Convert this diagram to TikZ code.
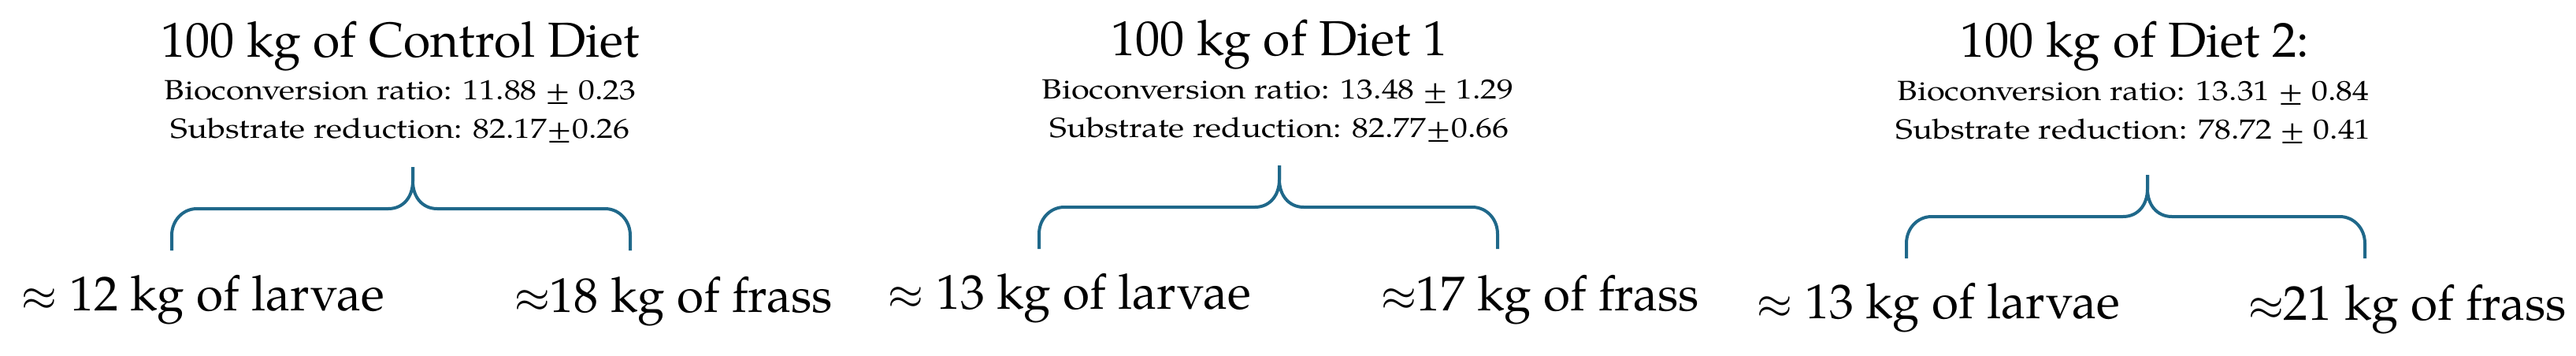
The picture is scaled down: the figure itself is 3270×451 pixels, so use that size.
\documentclass[tikz,border=0pt]{standalone}
\usepackage{fontspec}
\setmainfont{TeX Gyre Pagella}
\newfontfamily\infofont[FakeStretch=1.185]{TeX Gyre Pagella}
\definecolor{bracecol}{RGB}{31,104,138}
\tikzset{
  titletext/.style={font=\fontsize{15.6}{18}\selectfont, anchor=base, inner sep=0pt},
  infotext/.style={font=\infofont\fontsize{8.8}{10}\selectfont, anchor=base, inner sep=0pt},
  resulttext/.style={font=\fontsize{15.5}{18}\selectfont, anchor=base, inner sep=0pt},
  bracestyle/.style={draw=bracecol, line width=1pt}
}
% name, left x, cusp x, right x, horizontal y
\newcommand{\dietbrace}[5]{%
  \coordinate (#1l) at ({#2},{#5+53});
  \coordinate (#1c) at ({#3},{#5-53});
  \coordinate (#1r) at ({#4},{#5+53});
  \draw[bracestyle] (#1l) -- ({#2},{#5+34})
     .. controls ({#2},{#5+15}) and ({#2+14},{#5}) .. ({#2+32},{#5})
     -- ({#3-31},{#5})
     .. controls ({#3-12},{#5}) and ({#3},{#5-15}) .. ({#3},{#5-35})
     -- (#1c);
  \draw[bracestyle] (#1r) -- ({#4},{#5+34})
     .. controls ({#4},{#5+15}) and ({#4-14},{#5}) .. ({#4-32},{#5})
     -- ({#3+31},{#5})
     .. controls ({#3+12},{#5}) and ({#3},{#5-15}) .. ({#3},{#5-35})
     -- (#1c);
}
\begin{document}
\begin{tikzpicture}[x=0.25pt,y=-0.25pt]
\useasboundingbox (0,0) rectangle (3270,451);

% Panel 1
\node[titletext] (t1) at (508,72) {100 kg of Control Diet};
\node[infotext] (r1) at (508,126) {Bioconversion ratio: 11.88 ± 0.23};
\node[infotext] (s1) at (508,175) {Substrate reduction: 82.17±0.26};
\dietbrace{b1}{218}{524}{800}{265}
\node[resulttext] (l1) at (258,394) {$\approx$ 12 kg of larvae};
\node[resulttext] (f1) at (855,396) {$\approx$18 kg of frass};

% Panel 2
\node[titletext] (t2) at (1624,70) {100 kg of Diet 1};
\node[infotext] (r2) at (1622,125) {Bioconversion ratio: 13.48 ± 1.29};
\node[infotext] (s2) at (1624,174) {Substrate reduction: 82.77±0.66};
\dietbrace{b2}{1319}{1624}{1901}{263}
\node[resulttext] (l2) at (1358,392) {$\approx$ 13 kg of larvae};
\node[resulttext] (f2) at (1955,394) {$\approx$17 kg of frass};

% Panel 3
\node[titletext] (t3) at (2710,72) {100 kg of Diet 2:};
\node[infotext] (r3) at (2708,127) {Bioconversion ratio: 13.31 ± 0.84};
\node[infotext] (s3) at (2708,176) {Substrate reduction: 78.72 ± 0.41};
\dietbrace{b3}{2420}{2726}{3002}{275}
\node[resulttext] (l3) at (2461,404) {$\approx$ 13 kg of larvae};
\node[resulttext] (f3) at (3056,406) {$\approx$21 kg of frass};
\end{tikzpicture}
\end{document}
